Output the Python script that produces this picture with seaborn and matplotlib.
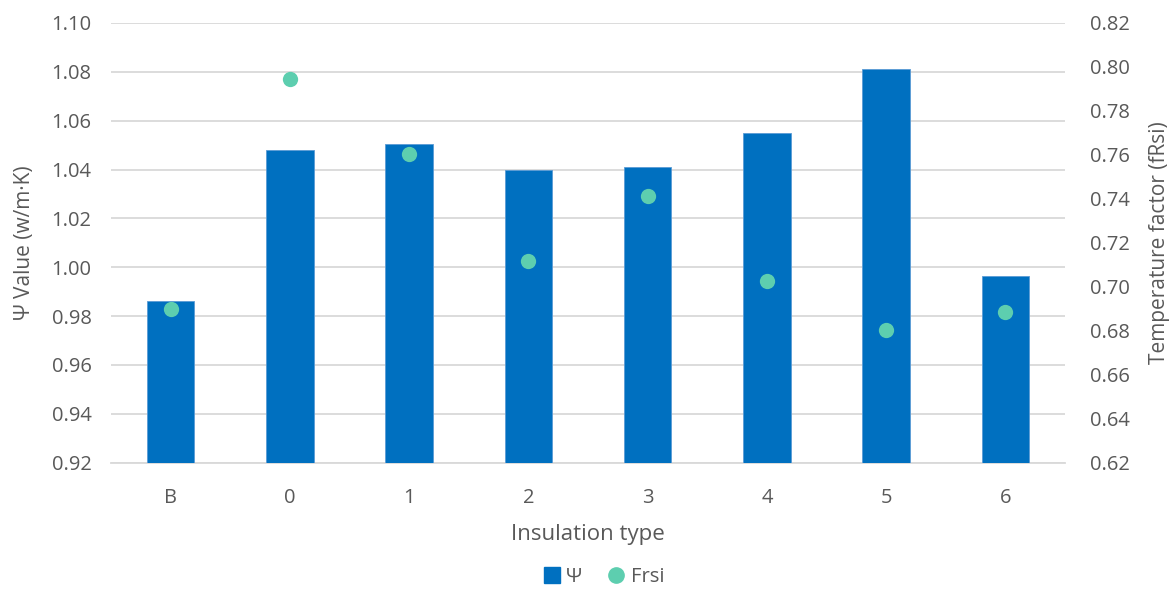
import matplotlib
matplotlib.use("Agg")
import matplotlib.pyplot as plt
import seaborn as sns
import pandas as pd
import numpy as np
from matplotlib.lines import Line2D

categories = ["B", "0", "1", "2", "3", "4", "5", "6"]
psi_values = [0.986, 1.048, 1.0505, 1.040, 1.041, 1.055, 1.081, 0.9965]
frsi_values = [0.690, 0.7945, 0.7606, 0.7116, 0.7414, 0.7026, 0.6804, 0.6884]
left_ticks = [0.92, 0.94, 0.96, 0.98, 1.00, 1.02, 1.04, 1.06, 1.08, 1.10]
right_ticks = [0.62, 0.64, 0.66, 0.68, 0.70, 0.72, 0.74, 0.76, 0.78, 0.80, 0.82]

df = pd.DataFrame({"cat": categories, "psi": psi_values, "frsi": frsi_values})

sns.set_style("white")
plt.rcParams['font.family'] = ['Open Sans', 'DejaVu Sans']

BAR = "#0070C0"
DOT = "#5DCEAF"
GRID = "#D9D9D9"
TXT = "#595959"

fig = plt.figure(figsize=(11.75, 5.89), dpi=100)
ax = fig.add_axes([111/1175, 1-462.7/589, (1065-111)/1175, (462.7-23)/589])

sns.barplot(data=df, x="cat", y="psi", order=categories, color=BAR, width=0.4,
            saturation=1, ax=ax, zorder=2, edgecolor="#5B9BD5", linewidth=0.6)
ax.set_ylim(0.92, 1.10)
ax.set_yticks(left_ticks)
ax.set_yticklabels([f"{v:.2f}" for v in left_ticks])
ax.set_xlim(-0.5, len(categories) - 0.5)
ax.yaxis.grid(True, color=GRID, linewidth=1.3, zorder=0)
ax.set_axisbelow(True)
for s in ["top", "right", "left"]:
    ax.spines[s].set_visible(False)
ax.spines["bottom"].set_color(GRID)
ax.spines["bottom"].set_linewidth(1.3)
ax.spines["bottom"].set_zorder(0.5)
ax.tick_params(axis="y", length=0, labelsize=14.5, labelcolor=TXT, pad=14)
ax.tick_params(axis="x", which="major", length=0, labelsize=14.5, labelcolor=TXT, pad=18)
ax.set_xticks(np.arange(-0.5, len(categories) + 0.5, 1), minor=True)
ax.tick_params(axis="x", which="minor", length=8, width=1.3, color=GRID)
ax.set_xlabel("Insulation type", fontsize=16, color=TXT, labelpad=12)
ax.set_ylabel("Ψ Value (w/m·K)", fontsize=15, color=TXT, labelpad=12)

ax2 = ax.twinx()
sns.stripplot(data=df, x="cat", y="frsi", order=categories, jitter=False, color=DOT,
              size=11, linewidth=0, ax=ax2, zorder=3)
ax2.set_ylim(0.62, 0.82)
ax2.set_yticks(right_ticks)
ax2.set_yticklabels([f"{v:.2f}" for v in right_ticks])
ax2.set_xlim(-0.5, len(categories) - 0.5)
for s in ["top", "right", "left", "bottom"]:
    ax2.spines[s].set_visible(False)
ax2.tick_params(axis="y", length=0, labelsize=14.5, labelcolor=TXT, pad=18)
ax2.set_ylabel("Temperature factor (fRsi)", fontsize=15, color=TXT, labelpad=14)

handles = [
    Line2D([], [], marker="s", linestyle="none", markersize=11, color=BAR, label="Ψ"),
    Line2D([], [], marker="o", linestyle="none", markersize=11, color=DOT, label="Frsi"),
]
fig.legend(handles=handles, loc="center", bbox_to_anchor=(603/1175, 1-577/589), ncol=2,
           frameon=False, fontsize=14.5, labelcolor=TXT, handletextpad=0.2,
           columnspacing=1.2, handlelength=1.0)

fig.savefig("out.png", dpi=100, facecolor="white")
